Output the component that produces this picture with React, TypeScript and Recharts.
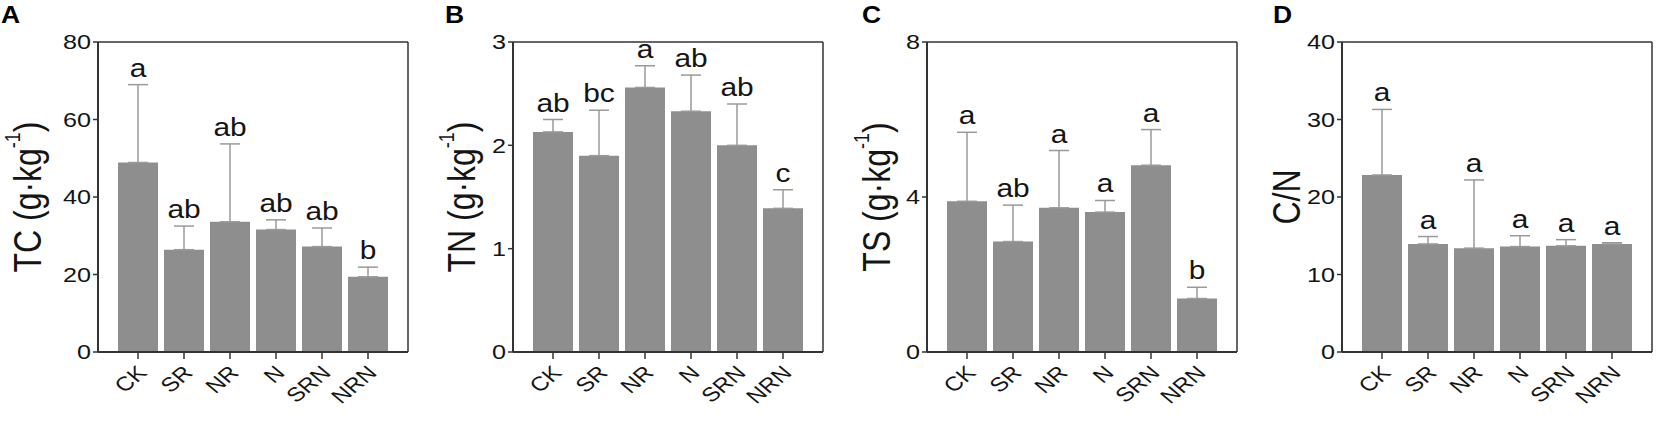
import React from 'react';
import { ComposedChart, Bar, Line, XAxis, YAxis, ErrorBar, LabelList } from 'recharts';

const categories = ['CK', 'SR', 'NR', 'N', 'SRN', 'NRN'];

const tcMean = [48.9, 26.4, 33.6, 31.6, 27.2, 19.4];
const tcErr = [20.1, 6.1, 20.1, 2.5, 4.8, 2.5];
const tcLetters = ['a', 'ab', 'ab', 'ab', 'ab', 'b'];
const tcTicks = [0, 20, 40, 60, 80];

const tnMean = [2.13, 1.9, 2.56, 2.33, 2.0, 1.39];
const tnErr = [0.12, 0.44, 0.21, 0.35, 0.4, 0.18];
const tnLetters = ['ab', 'bc', 'a', 'ab', 'ab', 'c'];
const tnTicks = [0, 1, 2, 3];

const tsMean = [3.89, 2.85, 3.72, 3.61, 4.82, 1.38];
const tsErr = [1.78, 0.94, 1.48, 0.3, 0.92, 0.29];
const tsLetters = ['a', 'ab', 'a', 'a', 'a', 'b'];
const tsTicks = [0, 4, 8];

const cnMean = [22.84, 13.94, 13.4, 13.6, 13.7, 13.94];
const cnErr = [8.46, 0.96, 8.8, 1.4, 0.8, 0.16];
const cnLetters = ['a', 'a', 'a', 'a', 'a', 'a'];
const cnTicks = [0, 10, 20, 30, 40];

const FONT = '"Liberation Sans", Arial, Helvetica, sans-serif';
const AXIS = '#333333';
const TEXT = '#141414';

type PanelDef = {
  tag: string;
  tagLeft: number;
  main: string;
  unit: boolean;
  means: number[];
  errs: number[];
  letters: string[];
  ticks: number[];
  plotLeft: number;
  labelDist: number;
};

const panels: PanelDef[] = [
  { tag: 'A', tagLeft: 1, main: 'TC', unit: true, means: tcMean, errs: tcErr, letters: tcLetters, ticks: tcTicks, plotLeft: 98, labelDist: 71 },
  { tag: 'B', tagLeft: 445, main: 'TN', unit: true, means: tnMean, errs: tnErr, letters: tnLetters, ticks: tnTicks, plotLeft: 513, labelDist: 52 },
  { tag: 'C', tagLeft: 862, main: 'TS', unit: true, means: tsMean, errs: tsErr, letters: tsLetters, ticks: tsTicks, plotLeft: 927, labelDist: 51 },
  { tag: 'D', tagLeft: 1273, main: 'C/N', unit: false, means: cnMean, errs: cnErr, letters: cnLetters, ticks: cnTicks, plotLeft: 1342, labelDist: 56 },
];

const YW = 110;
const PLOT_W = 310;
const PAD = { left: 17, right: 17 };

const YTick = (props: any) => {
  const { x, y, payload } = props;
  return (
    <g transform={`translate(${x},${y})`}>
      <text transform="scale(1.2,1)" textAnchor="end" dominantBaseline="central" fontSize={21} fill={TEXT} fontFamily={FONT}>
        {payload.value}
      </text>
    </g>
  );
};

const XTick = (props: any) => {
  const { x, y, payload } = props;
  return (
    <g transform={`translate(${x + 10},${y + 13})`}>
      <text transform="scale(1.2,1) rotate(-45)" textAnchor="end" fontSize={20} fill={TEXT} fontFamily={FONT}>
        {payload.value}
      </text>
    </g>
  );
};

const renderLetter = (props: any) => {
  const { x, y, value } = props;
  return (
    <g transform={`translate(${x},${y - 8})`}>
      <text transform="scale(1.15,1)" textAnchor="middle" fontSize={26} fill={TEXT} fontFamily={FONT}>
        {value}
      </text>
    </g>
  );
};

function Panel({ p }: { p: PanelDef }) {
  const data = categories.map((c, i) => ({
    cat: c,
    mean: p.means[i],
    err: [0, p.errs[i]],
    top: p.means[i] + p.errs[i],
    letter: p.letters[i],
  }));
  const max = p.ticks[p.ticks.length - 1];
  const yLabel = (lp: any) => {
    const vb = lp.viewBox || {};
    const cx = vb.x + vb.width - p.labelDist;
    const cy = vb.y + vb.height / 2;
    return (
      <g transform={`translate(${cx},${cy}) scale(1.2,1) rotate(-90)`}>
        <text textAnchor="middle" dominantBaseline="central" fontSize={32} fill={TEXT} fontFamily={FONT}>
          {p.main}
          {p.unit ? ' (g·kg' : ''}
          {p.unit ? (
            <tspan dy={-12} fontSize={18}>
              -1
            </tspan>
          ) : null}
          {p.unit ? <tspan dy={12}>)</tspan> : null}
        </text>
      </g>
    );
  };
  return (
    <div style={{ position: 'absolute', left: p.plotLeft - YW, top: 0 }}>
      <ComposedChart
        width={YW + PLOT_W + 6}
        height={426}
        data={data}
        margin={{ top: 41, right: 5, left: 0, bottom: 0 }}
        barSize={40}
      >
        <XAxis
          dataKey="cat"
          height={74}
          padding={PAD}
          interval={0}
          axisLine={{ stroke: AXIS, strokeWidth: 2 }}
          tickLine={{ stroke: AXIS, strokeWidth: 1.5 }}
          tickSize={7}
          tickMargin={2}
          tick={<XTick />}
        />
        <XAxis
          xAxisId="top"
          orientation="top"
          dataKey="cat"
          height={1}
          padding={PAD}
          interval={0}
          tick={false}
          tickLine={false}
          axisLine={{ stroke: AXIS, strokeWidth: 1.5 }}
        />
        <YAxis
          width={YW}
          domain={[0, max]}
          ticks={p.ticks}
          interval={0}
          allowDataOverflow
          axisLine={{ stroke: AXIS, strokeWidth: 2 }}
          tickLine={{ stroke: AXIS, strokeWidth: 1.5 }}
          tickSize={5}
          tickMargin={2}
          tick={<YTick />}
          label={{ content: yLabel }}
        />
        <YAxis
          yAxisId="right"
          orientation="right"
          width={1}
          domain={[0, max]}
          ticks={p.ticks}
          allowDataOverflow
          tick={false}
          tickLine={false}
          axisLine={{ stroke: AXIS, strokeWidth: 1.5 }}
        />
        <Bar dataKey="mean" fill="#8e8e8e" isAnimationActive={false}>
          <ErrorBar dataKey="err" width={10} stroke="#9a9a9a" strokeWidth={1.5} />
        </Bar>
        <Line
          xAxisId="top"
          yAxisId="right"
          dataKey="top"
          stroke="none"
          dot={false}
          activeDot={false}
          isAnimationActive={false}
          legendType="none"
        >
          <LabelList dataKey="letter" content={renderLetter} />
        </Line>
      </ComposedChart>
    </div>
  );
}

export default function App() {
  return (
    <div style={{ position: 'absolute', left: 0, top: 0, width: 1658, height: 426, background: '#ffffff', overflow: 'hidden' }}>
      {panels.map((p) => (
        <Panel key={p.tag} p={p} />
      ))}
      {panels.map((p) => (
        <div
          key={'t' + p.tag}
          style={{
            position: 'absolute',
            left: p.tagLeft,
            top: 4,
            fontFamily: FONT,
            fontWeight: 'bold',
            fontSize: 23,
            lineHeight: '23px',
            color: '#000',
            transform: 'scaleX(1.15)',
            transformOrigin: 'left top',
          }}
        >
          {p.tag}
        </div>
      ))}
    </div>
  );
}
